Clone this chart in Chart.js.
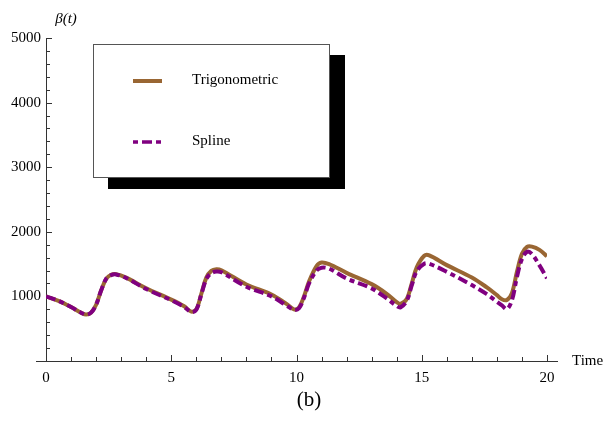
<!DOCTYPE html>
<html>
<head>
<meta charset="utf-8">
<script src="https://cdn.jsdelivr.net/npm/chart.js@4"></script>
<style>
  html, body { margin: 0; padding: 0; background: #fff; }
  canvas { display: block; }
</style>
</head>
<body>
<canvas id="grafico" width="605" height="422"></canvas>
<script>
// dados (b)
const tempos = [0, 0.5, 1.0, 1.4, 1.6, 1.8, 2.0, 2.2, 2.4, 2.6,
  2.8, 3.2, 4.0, 5.0, 5.5, 5.8, 6.0, 6.2, 6.4, 6.6,
  6.8, 7.0, 8.0, 9.0, 9.6, 9.9, 10.1, 10.3, 10.5, 10.8,
  11.0, 11.3, 12.0, 13.0, 13.6, 14.0, 14.15, 14.4, 14.6, 14.8,
  15.1, 15.3, 16.0, 17.0, 17.6, 18.0, 18.2, 18.4, 18.6, 18.8,
  19.0, 19.2, 19.4, 19.7, 20.0]

const trigonometric = [1000, 930, 835, 748, 718, 748, 870, 1090, 1270, 1335,
  1345, 1290, 1125, 950, 850, 765, 800, 1040, 1290, 1395,
  1420, 1405, 1185, 1030, 885, 798, 830, 1000, 1230, 1470,
  1525, 1500, 1365, 1190, 1040, 910, 885, 960, 1200, 1450,
  1630, 1635, 1484, 1293, 1139, 1020, 955, 945, 1050, 1380,
  1660, 1765, 1770, 1720, 1620]

const spline = [1000, 930, 835, 748, 718, 748, 870, 1090, 1270, 1330,
  1340, 1285, 1115, 940, 840, 760, 795, 1030, 1270, 1360,
  1385, 1375, 1150, 1000, 860, 790, 815, 980, 1200, 1400,
  1445, 1430, 1278, 1123, 969, 852, 830, 930, 1170, 1390,
  1505, 1505, 1380, 1175, 1035, 917, 860, 805, 940, 1300,
  1580, 1690, 1655, 1480, 1280]

const xTicks = [0, 5, 10, 15, 20]
const yTicks = [1000, 2000, 3000, 4000, 5000]
const nomes = ["Trigonometric", "Spline"]

const serif = "'Liberation Serif', 'DejaVu Serif', serif"
const marrom = "#996633"
const roxo = "#800080"
const tracoSpline = [10, 4, 5, 4]

const pontos = (valores) => tempos.map((t, i) => ({x: t, y: valores[i]}))

// eixos no estilo Mathematica, legenda com sombra e textos
const eixos = {
  id: "eixos",
  beforeDatasetsDraw(chart) {
    const ctx = chart.ctx
    const sx = chart.scales.x
    const sy = chart.scales.y
    const x0 = sx.getPixelForValue(0)
    const y0 = sy.getPixelForValue(0)
    ctx.save()
    ctx.strokeStyle = "#333"
    ctx.lineWidth = 1
    ctx.beginPath()
    ctx.moveTo(x0 - 10, y0 + 0.5)
    ctx.lineTo(sx.getPixelForValue(20) + 11, y0 + 0.5)
    ctx.moveTo(x0 + 0.5, sy.getPixelForValue(5000))
    ctx.lineTo(x0 + 0.5, y0)
    // ticks x
    for (let t = 0; t <= 20; t++) {
      const px = Math.round(sx.getPixelForValue(t)) + 0.5
      const len = t % 5 === 0 ? 6 : 4
      ctx.moveTo(px, y0)
      ctx.lineTo(px, y0 - len)
    }
    // ticks y
    for (let v = 200; v <= 5000; v += 200) {
      const py = Math.round(sy.getPixelForValue(v)) + 0.5
      const len = v % 1000 === 0 ? 6 : 4
      ctx.moveTo(x0, py)
      ctx.lineTo(x0 + len, py)
    }
    ctx.stroke()
    ctx.restore()
  },
  afterDraw(chart) {
    const ctx = chart.ctx
    ctx.save()
    // sombra e caixa da legenda
    ctx.fillStyle = "#000"
    ctx.fillRect(108, 55, 237, 134)
    ctx.fillStyle = "#fff"
    ctx.fillRect(93, 44, 237, 134)
    ctx.strokeStyle = "#555"
    ctx.lineWidth = 1
    ctx.strokeRect(93.5, 44.5, 236, 133)

    ctx.lineWidth = 4
    ctx.strokeStyle = marrom
    ctx.beginPath()
    ctx.moveTo(133, 81)
    ctx.lineTo(162, 81)
    ctx.stroke()

    ctx.strokeStyle = roxo
    ctx.lineWidth = 3.5
    ctx.setLineDash([5, 4, 10, 4])
    ctx.beginPath()
    ctx.moveTo(133, 142)
    ctx.lineTo(161, 142)
    ctx.stroke()
    ctx.setLineDash([])

    ctx.fillStyle = "#000"
    ctx.textBaseline = "middle"
    ctx.textAlign = "left"
    ctx.font = "15px " + serif
    ctx.fillText(nomes[0], 192, 80)
    ctx.fillText(nomes[1], 192, 141)

    // rótulos
    ctx.fillText("Time", 572, 361)
    ctx.font = "italic 15px " + serif
    ctx.textAlign = "center"
    ctx.fillText("\u03B2(t)", 66, 19)
    ctx.font = "21px " + serif
    ctx.fillText("(b)", 309, 400)
    ctx.restore()
  }
}

const ctx = document.getElementById("grafico")

const grafico = new Chart(ctx, {
  type: "line",
  data: {
    datasets: [{
      label: nomes[0],
      data: pontos(trigonometric),
      borderColor: marrom,
      borderWidth: 4,
      pointRadius: 0,
      tension: 0.35,
      order: 2
    }, {
      label: nomes[1],
      data: pontos(spline),
      borderColor: roxo,
      borderWidth: 4,
      borderDash: tracoSpline,
      pointRadius: 0,
      tension: 0.35,
      order: 1
    }]
  },
  options: {
    responsive: false,
    animation: false,
    devicePixelRatio: 1,
    layout: {
      padding: {left: 0, top: 38, right: 58, bottom: 0}
    },
    plugins: {
      legend: {display: false},
      tooltip: {enabled: false}
    },
    scales: {
      x: {
        type: "linear",
        min: 0,
        max: 20,
        afterFit: (s) => { s.height = 61 },
        afterBuildTicks: (s) => { s.ticks = xTicks.map(v => ({value: v})) },
        grid: {display: false, drawTicks: false},
        border: {display: false},
        ticks: {
          padding: 8,
          color: "#000",
          maxRotation: 0,
          font: {family: serif, size: 15},
          callback: (v) => String(v)
        }
      },
      y: {
        min: 0,
        max: 5000,
        afterFit: (s) => { s.width = 46 },
        afterBuildTicks: (s) => { s.ticks = yTicks.map(v => ({value: v})) },
        grid: {display: false, drawTicks: false},
        border: {display: false},
        ticks: {
          padding: 5,
          color: "#000",
          font: {family: serif, size: 15},
          callback: (v) => String(v)
        }
      }
    }
  },
  plugins: [eixos]
})
</script>
</body>
</html>
